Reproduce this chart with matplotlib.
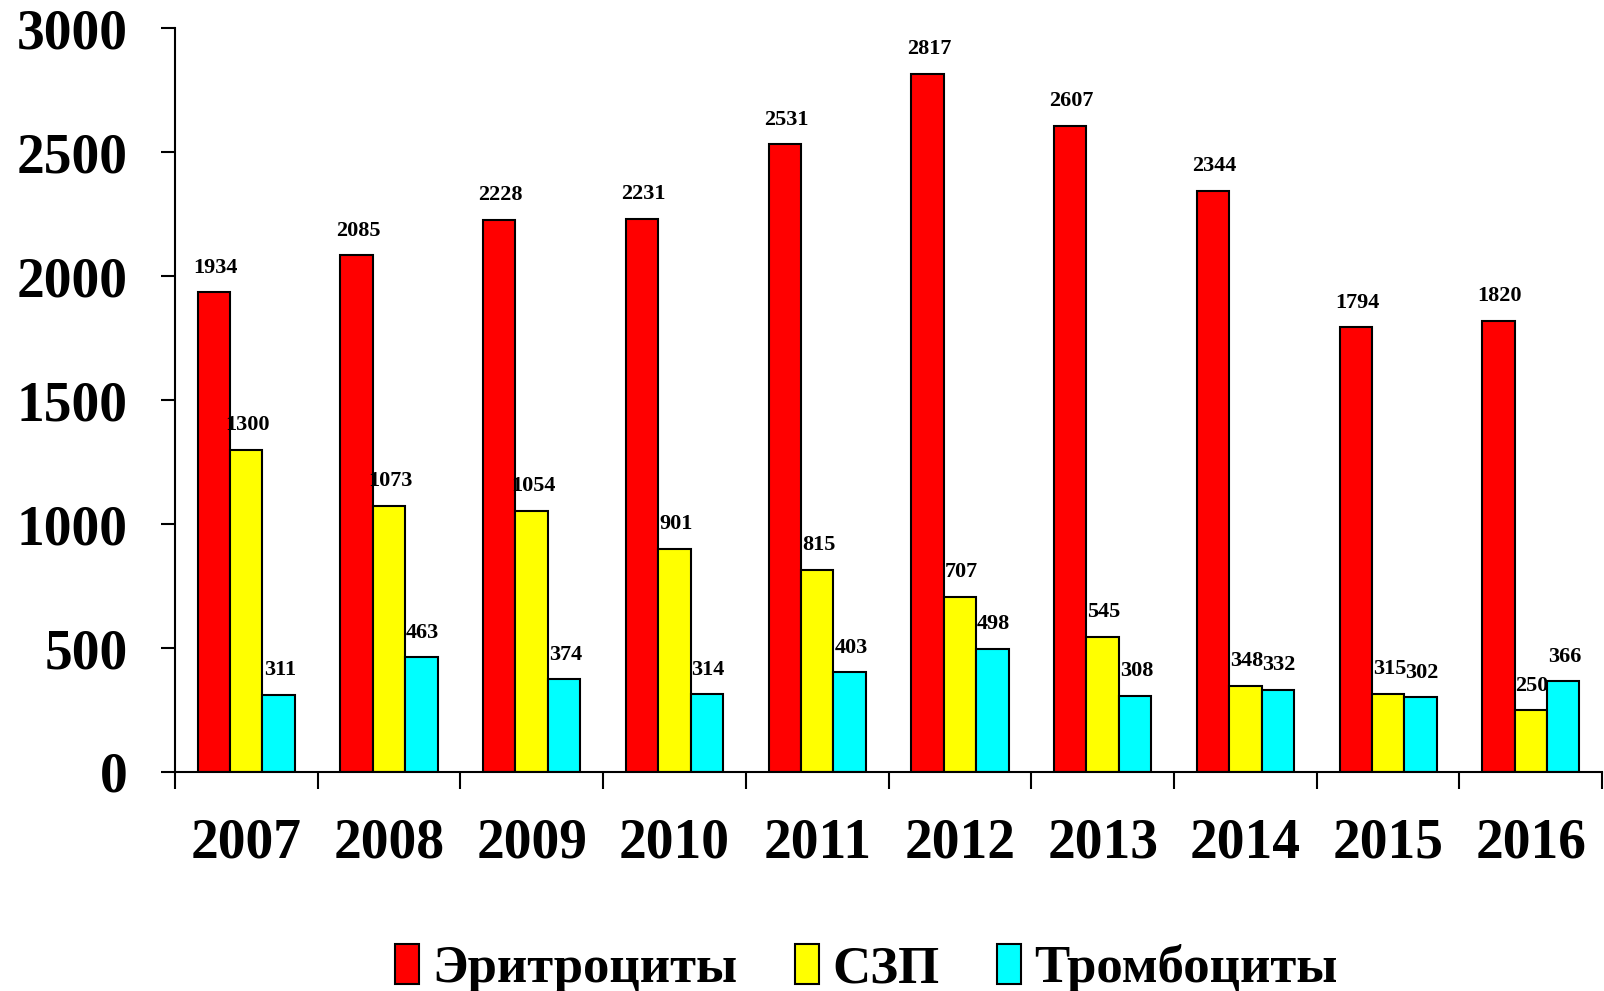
import numpy as np
import matplotlib.pyplot as plt
from matplotlib.ticker import FixedLocator

years = ['2007', '2008', '2009', '2010', '2011', '2012', '2013', '2014', '2015', '2016']
erythrocytes = [1934, 2085, 2228, 2231, 2531, 2817, 2607, 2344, 1794, 1820]
szp = [1300, 1073, 1054, 901, 815, 707, 545, 348, 315, 250]
platelets = [311, 463, 374, 314, 403, 498, 308, 332, 302, 366]
series_names = ['Эритроциты', 'СЗП', 'Тромбоциты']
colors = ['#ff0000', '#ffff00', '#00ffff']

plt.rcParams['font.family'] = ['Liberation Serif', 'DejaVu Serif']
plt.rcParams['font.weight'] = 'bold'

fig = plt.figure(figsize=(16.04, 9.91), dpi=100)
ax = fig.add_axes([0.109, 0.221, 0.8899, 0.7506])

x = np.arange(len(years)) + 0.5
w = 0.227
for k, (vals, name, c) in enumerate(zip([erythrocytes, szp, platelets], series_names, colors)):
    xs = x + (k - 1) * w
    ax.bar(xs, vals, w, color=c, edgecolor='black', linewidth=1.5, label=name, zorder=2)
    for xi, v in zip(xs, vals):
        ax.annotate(str(v), (xi, v), xytext=(1, 14), textcoords='offset points',
                    ha='center', va='baseline', fontsize=16, fontweight='bold', zorder=3)

ax.set_xlim(0, len(years))
ax.set_ylim(0, 3000)
ax.set_yticks(np.arange(0, 3001, 500))
ax.set_yticklabels([str(v) for v in range(0, 3001, 500)], fontsize=40, fontweight='bold')
ax.tick_params(axis='y', direction='out', length=10, width=1.5, pad=24)

ax.set_xticks(np.arange(0, len(years) + 1))
ax.set_xticklabels([])
ax.tick_params(axis='x', which='major', direction='out', length=12, width=1.5)
ax.xaxis.set_minor_locator(FixedLocator(x))
ax.set_xticks(x, minor=True)
ax.set_xticklabels(years, minor=True, fontsize=40, fontweight='bold')
ax.tick_params(axis='x', which='minor', length=0, pad=33)

for s in ['top', 'right']:
    ax.spines[s].set_visible(False)
for s in ['left', 'bottom']:
    ax.spines[s].set_linewidth(1.5)

fig.legend(loc='lower center', bbox_to_anchor=(0.54, -0.05), ncol=3, frameon=False,
           prop={'family': 'Liberation Serif', 'weight': 'bold', 'size': 38},
           handlelength=0.45, handleheight=0.8, handletextpad=0.25, columnspacing=1.1)

plt.savefig('out.png', dpi=100)
